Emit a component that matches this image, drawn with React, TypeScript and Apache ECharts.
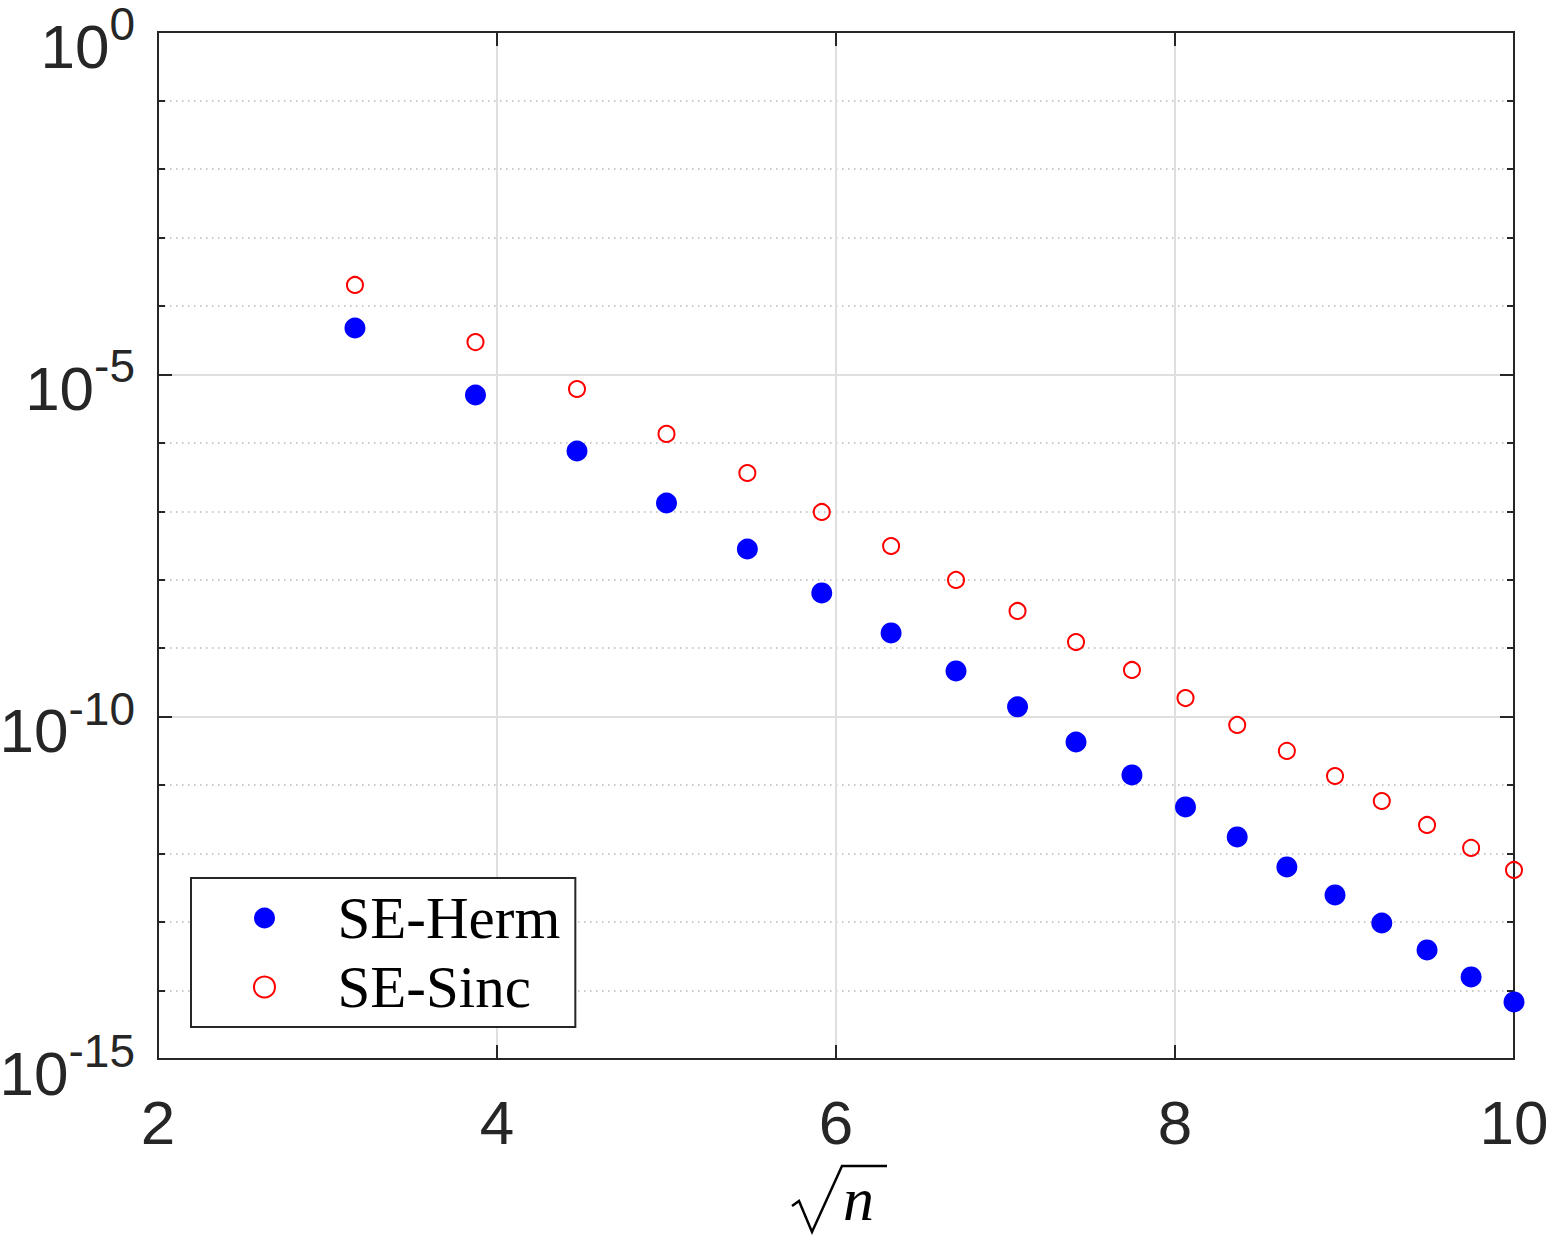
import React, { useEffect, useRef } from "react";
import * as echarts from "echarts";

// x positions: sqrt(n) for n = 10, 15, ..., 100
const sqrtN = [
  3.162, 3.873, 4.472, 5.0, 5.477, 5.916, 6.325, 6.708, 7.071, 7.416,
  7.746, 8.062, 8.367, 8.66, 8.944, 9.22, 9.487, 9.747, 10.0,
];

// error of each method
const seHerm = [
  4.75e-5, 4.99e-6, 7.59e-7, 1.32e-7, 2.81e-8, 6.41e-9, 1.67e-9, 4.65e-10,
  1.39e-10, 4.27e-11, 1.41e-11, 4.8e-12, 1.75e-12, 6.38e-13, 2.49e-13,
  9.7e-14, 3.92e-14, 1.58e-14, 6.81e-15,
];
const seSinc = [
  2.02e-4, 2.96e-5, 6.11e-6, 1.35e-6, 3.62e-7, 9.77e-8, 3.11e-8, 9.93e-9,
  3.5e-9, 1.23e-9, 4.81e-10, 1.87e-10, 7.57e-11, 3.16e-11, 1.36e-11,
  5.87e-12, 2.62e-12, 1.21e-12, 5.77e-13,
];

const seriesNames = ["SE-Herm", "SE-Sinc"];
const xRange = [2, 10];
const xStep = 2;
const yRange = [1e-15, 1];
const labelledDecadeStep = 5;

const AXIS = "#262626";
const GRID_SOLID = "#dfdfdf";
const GRID_DOT = "#b8b8b8";

export default function App() {
  const ref = useRef<HTMLDivElement>(null);

  useEffect(() => {
    if (!ref.current) return;
    const chart = echarts.init(ref.current, null, { renderer: "svg" });

    const axisLine = {
      show: true,
      onZero: false,
      lineStyle: { color: AXIS, width: 2 },
    };
    const tick = (length: number) => ({
      show: true,
      inside: true,
      length,
      lineStyle: { color: AXIS, width: 2 },
    });
    const yBase = {
      type: "log" as const,
      logBase: 10,
      min: yRange[0],
      max: yRange[1],
      axisLine,
    };

    // 10^e labels on every fifth decade
    const powerLabel = (v: number) => {
      const e = Math.round(Math.log10(v));
      if (e % labelledDecadeStep !== 0) return "";
      return `{b|10}{s|${e}}`;
    };

    chart.setOption({
      animation: false,
      backgroundColor: "#ffffff",
      grid: {
        left: 158,
        right: 32,
        top: 32,
        bottom: 177,
        containLabel: false,
        outerBoundsMode: "none",
      },
      xAxis: [
        {
          type: "value",
          position: "bottom",
          min: xRange[0],
          max: xRange[1],
          interval: xStep,
          axisLine,
          axisTick: tick(14),
          axisLabel: {
            margin: 32,
            fontFamily: "Liberation Sans",
            fontSize: 62,
            color: AXIS,
          },
          splitLine: { show: true, lineStyle: { color: GRID_SOLID, width: 2 } },
        },
        {
          type: "value",
          position: "top",
          min: xRange[0],
          max: xRange[1],
          interval: xStep,
          axisLine,
          axisTick: tick(14),
          axisLabel: { show: false },
          splitLine: { show: false },
        },
      ],
      yAxis: [
        {
          ...yBase,
          position: "left",
          interval: 1,
          splitNumber: 15,
          axisTick: tick(7),
          axisLabel: { show: false },
          splitLine: {
            show: true,
            lineStyle: { color: GRID_DOT, width: 1.5, type: [1.5, 4.5] },
          },
        },
        {
          ...yBase,
          position: "left",
          interval: labelledDecadeStep,
          axisTick: tick(14),
          axisLabel: {
            margin: 23,
            formatter: powerLabel,
            rich: {
              b: {
                fontFamily: "Liberation Sans",
                fontSize: 62,
                lineHeight: 62,
                color: AXIS,
                padding: [28, 0, 0, 0],
              },
              s: {
                fontFamily: "Liberation Sans",
                fontSize: 46,
                lineHeight: 62,
                color: AXIS,
                verticalAlign: "top",
              },
            },
          },
          splitLine: { show: true, lineStyle: { color: GRID_SOLID, width: 2 } },
        },
        {
          ...yBase,
          position: "right",
          interval: 1,
          splitNumber: 15,
          axisTick: tick(7),
          axisLabel: { show: false },
          splitLine: { show: false },
        },
        {
          ...yBase,
          position: "right",
          interval: labelledDecadeStep,
          axisTick: tick(14),
          axisLabel: { show: false },
          splitLine: { show: false },
        },
      ],
      legend: {
        data: seriesNames,
        orient: "vertical",
        left: 191,
        top: 878,
        padding: [10, 15, 10, 62],
        itemGap: 9,
        itemWidth: 136,
        itemHeight: 21,
        backgroundColor: "#ffffff",
        borderColor: AXIS,
        borderWidth: 2,
        borderRadius: 0,
        selectedMode: false,
        textStyle: {
          fontFamily: "Liberation Serif",
          fontSize: 59,
          lineHeight: 60,
          color: "#000000",
        },
      },
      series: [
        {
          name: seriesNames[0],
          type: "scatter",
          xAxisIndex: 0,
          yAxisIndex: 0,
          symbol: "circle",
          symbolSize: 21,
          itemStyle: { color: "#0000ff", opacity: 1 },
          data: sqrtN.map((x, i) => [x, seHerm[i]]),
          z: 3,
        },
        {
          name: seriesNames[1],
          type: "scatter",
          xAxisIndex: 0,
          yAxisIndex: 0,
          symbol: "circle",
          symbolSize: 16,
          itemStyle: {
            color: "rgba(255,255,255,0)",
            borderColor: "#ff0000",
            borderWidth: 2,
            opacity: 1,
          },
          data: sqrtN.map((x, i) => [x, seSinc[i]]),
          z: 3,
        },
      ],
      graphic: [
        // radical sign of the x-axis title
        {
          type: "polyline",
          silent: true,
          shape: {
            points: [
              [792, 1206],
              [799, 1201],
              [812, 1232],
              [842, 1166],
              [887, 1166],
            ],
          },
          style: { stroke: "#000000", lineWidth: 2.5, fill: "none" },
        },
        {
          type: "text",
          silent: true,
          x: 843,
          y: 1199,
          style: {
            text: "n",
            fontFamily: "Liberation Serif",
            fontStyle: "italic",
            fontSize: 62,
            fill: "#000000",
            align: "left",
            verticalAlign: "middle",
          },
        },
      ],
    });

    return () => chart.dispose();
  }, []);

  return (
    <div
      ref={ref}
      style={{
        position: "fixed",
        left: 0,
        top: 0,
        width: 1546,
        height: 1236,
        background: "#ffffff",
      }}
    />
  );
}
